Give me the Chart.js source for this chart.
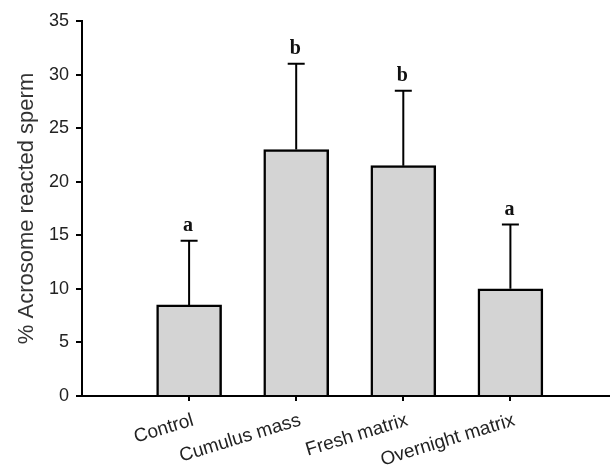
<!DOCTYPE html>
<html lang="en">
<head>
  <meta charset="UTF-8">
  <title>Acrosome reacted sperm</title>
  <style>
    html, body { margin: 0; padding: 0; background: #fff; }
    #wrap { width: 610px; height: 465px; }
  </style>
</head>
<body>
  <div id="wrap"><canvas id="barChart" width="610" height="465"></canvas></div>

  <script src="https://cdn.jsdelivr.net/npm/chart.js"></script>
  <script>
    const groups = ["Control", "Cumulus mass", "Fresh matrix", "Overnight matrix"];
    const means = [8.5, 23, 21.5, 10];
    const upperErr = [14.5, 31, 28.5, 16];
    const letters = ["a", "b", "b", "a"];
    const yTicks = [0, 5, 10, 15, 20, 25, 30, 35];

    // error bars + significance letters, placed with the chart scales
    const errorBars = {
      id: "errorBars",
      afterDatasetsDraw(chart) {
        const ctx = chart.ctx;
        const xs = chart.scales.x, ys = chart.scales.y;
        ctx.save();
        ctx.strokeStyle = "#000";
        ctx.lineWidth = 2;
        groups.forEach((g, i) => {
          const x = xs.getPixelForValue(i + 1);
          const y0 = ys.getPixelForValue(means[i]);
          const y1 = ys.getPixelForValue(upperErr[i]);
          ctx.beginPath();
          ctx.moveTo(x, y0);
          ctx.lineTo(x, y1);
          ctx.moveTo(x - 8.5, y1);
          ctx.lineTo(x + 8.5, y1);
          ctx.stroke();
          ctx.fillStyle = "#111";
          ctx.font = "bold 20px 'Liberation Serif', 'DejaVu Serif', serif";
          ctx.textAlign = "center";
          ctx.textBaseline = "alphabetic";
          ctx.fillText(letters[i], x - 1, y1 - 10);
        });
        ctx.restore();
      }
    };

    const ctx = document.getElementById("barChart").getContext("2d");
    new Chart(ctx, {
      type: "bar",
      data: {
        datasets: [{
          data: means.map((v, i) => ({ x: i + 1, y: v })),
          backgroundColor: "#d4d4d4",
          borderColor: "#000",
          borderWidth: 2.5,
          borderSkipped: "bottom",
          barThickness: 65
        }]
      },
      options: {
        responsive: false,
        animation: false,
        devicePixelRatio: 1,
        layout: { padding: { top: 21, right: 0, left: 0, bottom: 0 } },
        plugins: {
          legend: { display: false },
          tooltip: { enabled: false }
        },
        scales: {
          x: {
            type: "linear",
            offset: false,
            min: 0,
            max: 4.93,
            afterBuildTicks(scale) {
              scale.ticks = groups.map((g, i) => ({ value: i + 1 }));
            },
            afterFit(scale) { scale.height = 69; scale.paddingLeft = 0; scale.paddingRight = 0; },
            grid: { display: true, offset: false, drawOnChartArea: false, drawTicks: true, tickLength: 5, color: "#000", lineWidth: 2 },
            border: { display: true, color: "#000", width: 2 },
            ticks: {
              autoSkip: false,
              minRotation: 17,
              maxRotation: 17,
              padding: 8,
              labelOffset: 4,
              color: "#222",
              font: { family: "'Liberation Sans', Arial, sans-serif", size: 19 },
              callback: (v) => groups[Math.round(v) - 1] || ""
            }
          },
          y: {
            min: 0,
            max: 35,
            afterBuildTicks(scale) {
              scale.ticks = yTicks.map(v => ({ value: v }));
            },
            afterFit(scale) { scale.width = 82; },
            grid: { display: true, drawOnChartArea: false, drawTicks: true, tickLength: 6, color: "#000", lineWidth: 2 },
            border: { display: true, color: "#000", width: 2 },
            ticks: {
              padding: 7,
              color: "#222",
              font: { family: "'Liberation Sans', Arial, sans-serif", size: 18 }
            },
            title: {
              display: true,
              text: "% Acrosome reacted sperm",
              color: "#333",
              padding: { top: 14, bottom: 0 },
              font: { family: "'Liberation Sans', Arial, sans-serif", size: 22 }
            }
          }
        }
      },
      plugins: [errorBars]
    });
  </script>
</body>
</html>
